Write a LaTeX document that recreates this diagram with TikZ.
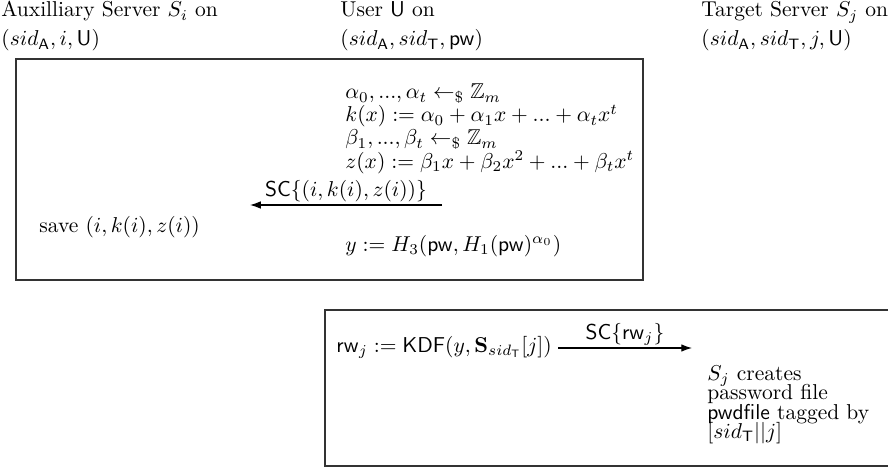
\documentclass[tikz,border=0pt]{standalone}
\usepackage{amsmath,amssymb}
\usetikzlibrary{arrows.meta}
\begin{document}
\begin{tikzpicture}[x=0.465pt,y=-0.465pt,
  lbl/.style={anchor=base west,inner sep=0pt},
  frame/.style={draw=black!80,line width=0.6pt},
  msg/.style={-{Latex[length=5pt,width=3.5pt]},line width=0.5pt},
  msglbl/.style={above,inner sep=1pt}]
\useasboundingbox (0,0) rectangle (888,467);
% headers
\node[lbl] (h1a) at (1,17) {Auxilliary Server $S_i$ on};
\node[lbl] (h1b) at (1,46) {$(sid_{\mathsf{A}}, i, \mathsf{U})$};
\node[lbl] (h2a) at (340,17) {User $\mathsf{U}$ on};
\node[lbl] (h2b) at (340,46) {$(sid_{\mathsf{A}}, sid_{\mathsf{T}}, \mathsf{pw})$};
\node[lbl] (h3a) at (701,17) {Target Server $S_j$ on};
\node[lbl] (h3b) at (701,46) {$(sid_{\mathsf{A}}, sid_{\mathsf{T}}, j, \mathsf{U})$};
% box 1
\draw[frame] (16,59) rectangle (643,280);
\node[lbl] (m1) at (345,99) {$\alpha_0, ..., \alpha_t \leftarrow_{\$} \mathbb{Z}_m$};
\node[lbl] (m2) at (345,122) {$k(x) := \alpha_0 + \alpha_1 x + ... + \alpha_t x^t$};
\node[lbl] (m3) at (345,145) {$\beta_1, ..., \beta_t \leftarrow_{\$} \mathbb{Z}_m$};
\node[lbl] (m4) at (345,168) {$z(x) := \beta_1 x + \beta_2 x^2 + ... + \beta_t x^t$};
\coordinate (a1s) at (442,205);
\coordinate (a1e) at (250,205);
\draw[msg] (a1s) -- node[msglbl] (l1) {$\mathsf{SC}\{(i, k(i), z(i))\}$} (a1e);
\node[lbl] (sv) at (39,232) {save $(i, k(i), z(i))$};
\node[lbl] (yy) at (345,251) {$y := H_3(\mathsf{pw}, H_1(\mathsf{pw})^{\alpha_0})$};
% box 2
\draw[frame] (325,310) rectangle (900,466);
\node[lbl] (rw) at (336,352) {$\mathsf{rw}_j := \mathsf{KDF}(y, \mathbf{S}_{sid_{\mathsf{T}}}[j])$};
\coordinate (a2s) at (558,348);
\coordinate (a2e) at (692,348);
\draw[msg] (a2s) -- node[msglbl] (l2) {$\mathsf{SC}\{\mathsf{rw}_j\}$} (a2e);
\node[lbl] (t1) at (707,380) {$S_j$ creates};
\node[lbl] (t2) at (707,399.5) {password file};
\node[lbl] (t3) at (707,419) {$\mathsf{pwdfile}$ tagged by};
\node[lbl] (t4) at (707,438.5) {$[sid_{\mathsf{T}}||j]$};
\end{tikzpicture}
\end{document}
